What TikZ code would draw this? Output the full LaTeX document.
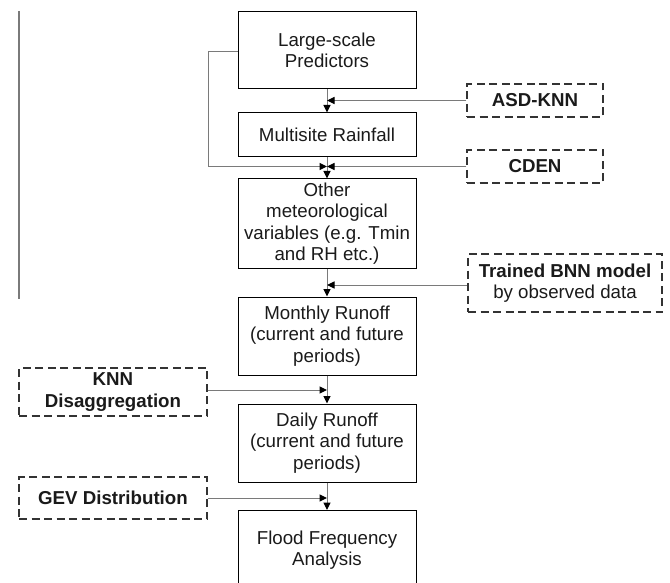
\documentclass[tikz,border=0pt]{standalone}
\usepackage{fontspec}
\setmainfont{Liberation Sans}
\usetikzlibrary{arrows.meta}
\definecolor{linkgray}{HTML}{7A7A7A}
\definecolor{inkdark}{HTML}{1A1A1A}
\definecolor{dashdark}{HTML}{333333}
\begin{document}
\begin{tikzpicture}[x=1pt,y=-1pt,
  every node/.style={font=\fontsize{18.7}{21.5}\selectfont, text=inkdark, align=center, inner sep=0pt},
  mainbox/.style={draw=black, line width=1pt, minimum width=178pt},
  sidebox/.style={draw=dashdark, line width=1.4pt, dash pattern=on 8pt off 4.5pt, font=\fontsize{18.7}{21.5}\selectfont\bfseries},
  link/.style={draw=linkgray, line width=1pt, -{Triangle[length=7.5pt,width=7pt,color=black]}},
  plain/.style={draw=linkgray, line width=1pt}]
\useasboundingbox (0,0) rectangle (670,583);
\clip (0,0) rectangle (670,583);

% left rule
\draw[linkgray, line width=1.6pt] (19,11) -- (19,299);

% main chain
\node[mainbox, minimum height=77pt] (pred)  at (327,50.5) {Large-scale\\Predictors};
\node[mainbox, minimum height=44pt] (rain)  at (327,135)  {Multisite Rainfall};
\node[mainbox, minimum height=89pt] (other) at (327,223.5) {Other\\meteorological\\variables (e.g. Tmin\\and RH etc.)};
\node[mainbox, minimum height=78pt] (month) at (327,336)  {Monthly Runoff\\(current and future\\periods)};
\node[mainbox, minimum height=78pt] (daily) at (327,443)  {Daily Runoff\\(current and future\\periods)};
\node[mainbox, minimum height=79pt] (flood) at (327,550)  {Flood Frequency\\Analysis};

% methods
\node[sidebox, minimum width=136pt, minimum height=33pt] (asd)  at (535,100.5) {ASD-KNN};
\node[sidebox, minimum width=136pt, minimum height=33pt] (cden) at (535,166.5) {CDEN};
\node[sidebox, minimum width=194pt, minimum height=58pt] (bnn)  at (565,283)   {Trained BNN model\\\mdseries by observed data};
\node[sidebox, minimum width=188pt, minimum height=48pt] (knn)  at (113,392)   {KNN\\Disaggregation};
\node[sidebox, minimum width=188pt, minimum height=42pt] (gev)  at (113,498)   {GEV Distribution};

% vertical flow
\draw[link] (pred.south)  -- (rain.north);
\draw[link] (rain.south)  -- (other.north);
\draw[link] (other.south) -- (month.north);
\draw[link] (month.south) -- (daily.north);
\draw[link] (daily.south) -- (flood.north);

% method inputs
\coordinate (asdhit)  at (asd.west -| pred.south);
\coordinate (cdenhit) at (cden.west -| rain.south);
\coordinate (bnnhit)  at ([yshift=-2pt]bnn.west -| other.south);
\coordinate (knnhit)  at ([yshift=2pt]knn.east -| month.south);
\coordinate (gevhit)  at (gev.east -| daily.south);
\draw[link] (asd.west) -- (asdhit);
\draw[link] (cden.west) -- (cdenhit);
\draw[link] ([yshift=-2pt]bnn.west) -- (bnnhit);
\draw[link] ([yshift=2pt]knn.east) -- (knnhit);
\draw[link] (gev.east) -- (gevhit);

% predictors also feed the second step directly
\coordinate (loopturn) at (208,0);
\draw[link] ([yshift=-1.5pt]pred.west) -| (loopturn |- cdenhit) -- (cdenhit);
\end{tikzpicture}
\end{document}
